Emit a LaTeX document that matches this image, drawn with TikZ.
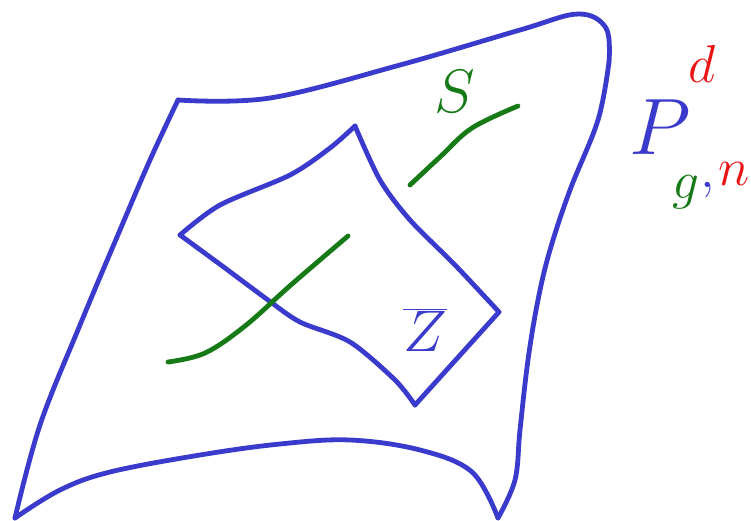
\RequirePackage{fix-cm}
\documentclass[tikz,border=0pt]{standalone}
\begin{document}
\begin{tikzpicture}[x=0.75pt,y=-0.75pt,
  pen/.style={line width=3.6pt,line cap=round,line join=round},
  bl/.style={pen,draw=blueink},
  gr/.style={pen,draw=greenink},
  lab/.style={inner sep=0pt}]
\definecolor{blueink}{RGB}{58,58,204}
\definecolor{greenink}{RGB}{22,122,22}
\definecolor{redink}{RGB}{235,20,20}
\useasboundingbox (0,0) rectangle (751,521);
% outer surface
\draw[bl] plot[smooth,tension=0.6] coordinates {(15,518) (40,425) (80,325) (120,230) (150,160) (178,100)};
\draw[bl] plot[smooth,tension=0.6] coordinates {(178,100) (270,98) (400,65) (520,30) (578,14) (606,28) (609,62)};
\draw[bl] plot[smooth,tension=0.6] coordinates {(609,62) (598,120) (570,190) (550,250) (538,300) (528,360) (520,430) (515,480) (498,518)};
\draw[bl] plot[smooth,tension=0.6] coordinates {(498,518) (472,472) (420,450) (350,440) (280,444) (200,455) (110,472) (60,490) (15,518)};
% inner region
\draw[bl] plot[smooth,tension=0.5] coordinates {(180,235) (220,205) (290,175) (330,148) (355,126)};
\draw[bl] plot[smooth,tension=0.5] coordinates {(355,126) (380,180) (410,220) (455,265) (499,312)};
\draw[bl] (499,312) -- (415,405);
\draw[bl] plot[smooth,tension=0.5] coordinates {(415,405) (395,380) (350,342) (300,322) (268,300) (225,268) (180,235)};
% green lines
\draw[gr] plot[smooth,tension=0.6] coordinates {(410,185) (440,157) (472,128) (518,106)};
\draw[gr] plot[smooth,tension=0.6] coordinates {(168,362) (205,353) (245,326) (292,284) (348,236)};
% labels
\node[lab,text=greenink,font=\fontsize{46}{46}\selectfont] (s) at (455,92) {$S$};
\node[lab,text=blueink,font=\fontsize{44}{44}\selectfont] (z) at (425,330) {$\overline{Z}$};
\node[lab,text=blueink,font=\fontsize{60}{60}\selectfont] (p) at (660,127) {$P$};
\node[lab,text=redink,font=\fontsize{40}{40}\selectfont] (d) at (702,64) {$d$};
\node[lab,text=greenink,font=\fontsize{40}{40}\selectfont] (g) at (686,192) {$g$};
\node[lab,text=blueink,font=\fontsize{40}{40}\selectfont] (c) at (708,190) {$,$};
\node[lab,text=redink,font=\fontsize{40}{40}\selectfont] (n) at (734,174) {$n$};
\end{tikzpicture}
\end{document}
